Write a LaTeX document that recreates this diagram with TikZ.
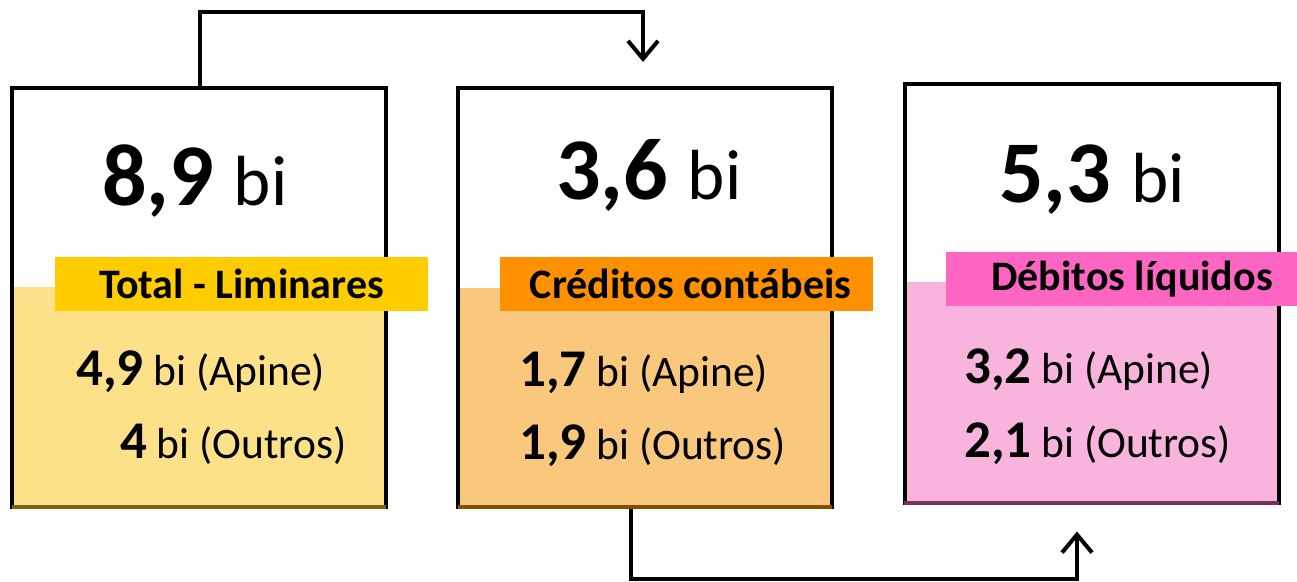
\documentclass[tikz,border=0pt]{standalone}
\usepackage{fontspec}
\setmainfont{Carlito}
\usetikzlibrary{arrows.meta}
\definecolor{ylab}{RGB}{255,204,0}
\definecolor{yfill}{RGB}{253,225,137}
\definecolor{yedge}{RGB}{120,100,20}
\definecolor{olab}{RGB}{255,145,0}
\definecolor{ofill}{RGB}{250,200,125}
\definecolor{oedge}{RGB}{130,80,0}
\definecolor{plab}{RGB}{255,102,196}
\definecolor{pfill}{RGB}{249,180,222}
\definecolor{pedge}{RGB}{120,50,90}
\newcommand{\bigval}[1]{{\fontsize{88}{88}\selectfont\bfseries #1 }{\fontsize{71}{71}\selectfont bi}}
\newcommand{\subval}[2]{{\fontsize{53}{53}\selectfont\bfseries #1}{\fontsize{43.5}{43.5}\selectfont{} bi (#2)}}
\tikzset{
  panel/.style={draw=black, line width=4pt, minimum width=374pt, minimum height=419pt, inner sep=0pt},
  tag/.style={minimum width=373pt, minimum height=54pt, inner sep=0pt, font=\fontsize{42}{42}\selectfont\bfseries},
  big/.style={anchor=base west, inner sep=0pt},
  sub/.style={anchor=base west, inner sep=0pt},
  conn/.style={line width=4pt, -{Straight Barb[length=18pt,width=30pt,line width=4pt]}}
}
\begin{document}
\begin{tikzpicture}[x=1pt,y=-1pt]
\useasboundingbox (0,0) rectangle (1297,581);
% fills
\fill[yfill] (12,287) rectangle (386,507);
\fill[ofill] (458,288) rectangle (832,507);
\fill[pfill] (904,282) rectangle (1279,503);
% panels
\node[panel] (b1) at (199,297.5) {};
\node[panel] (b2) at (645,297.5) {};
\node[panel] (b3) at (1091.5,293) {};
\draw[yedge, line width=4pt] (12,507) -- (386,507);
\draw[oedge, line width=4pt] (458,507) -- (832,507);
\draw[pedge, line width=4pt] (904,503) -- (1279,503);
% tags
\node[tag, fill=ylab] (t1) at (241.5,284) {Total - Liminares};
\node[tag, fill=olab] (t2) at (686.5,284) {\hspace{8pt}Créditos contábeis};
\node[tag, fill=plab] (t3) at (1132,279) {Débitos líquidos};
% big values
\node[big] (v1) at (102,205) {\bigval{8,9}};
\node[big] (v2) at (556,199) {\bigval{3,6}};
\node[big] (v3) at (999,202) {\bigval{5,3}};
% sub values
\node[sub] (a1) at (76,385) {\subval{4,9}{Apine}};
\node[sub] (o1) at (120,458) {\subval{4}{Outros}};
\node[sub] (a2) at (519,386) {\subval{1,7}{Apine}};
\node[sub] (o2) at (519,459) {\subval{1,9}{Outros}};
\node[sub] (a3) at (964,383) {\subval{3,2}{Apine}};
\node[sub] (o3) at (964,457) {\subval{2,1}{Outros}};
% connectors
\draw[conn] ([xshift=1pt]b1.north) -- ++(0,-74) -| ([xshift=-2pt,yshift=24pt]b2.north);
\draw[conn] ([xshift=-14pt]b2.south) -- ++(0,70) -| ([xshift=-14.5pt,yshift=-27pt]b3.south);
\end{tikzpicture}
\end{document}
